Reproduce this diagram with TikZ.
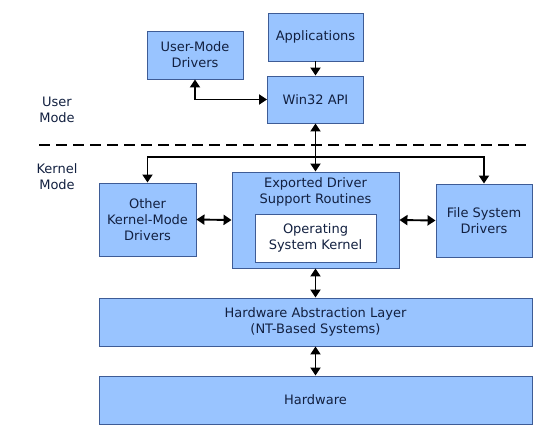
\documentclass[tikz,border=0pt]{standalone}
\usepackage{fontspec}
\setmainfont{DejaVu Sans}
\usepackage{tikz}
\usetikzlibrary{arrows.meta}

\definecolor{boxfill}{RGB}{153,196,255}
\definecolor{boxline}{RGB}{62,92,150}
\definecolor{boxtext}{RGB}{18,32,64}

\begin{document}
\begin{tikzpicture}[x=1bp, y=-1bp,
    layer/.style={draw=boxline, fill=boxfill, line width=0.9bp, text=boxtext,
      align=center, inner sep=0pt, font=\fontsize{13bp}{16bp}\selectfont},
    inner/.style={layer, fill=white},
    modelabel/.style={align=center, text=boxtext, font=\fontsize{13bp}{16bp}\selectfont},
    link/.style={line width=1.9bp, {Triangle[length=8bp,width=10bp]}-{Triangle[length=8bp,width=10bp]}},
    onelink/.style={line width=1.9bp, -{Triangle[length=8bp,width=10bp]}}]

  \useasboundingbox (0,0) rectangle (552,431);

  % User mode boxes
  \node[layer, minimum width=95bp, minimum height=48bp] (apps) at (315.5,37) {Applications};
  \node[layer, minimum width=96bp, minimum height=48bp] (umd)  at (195,55)   {User-Mode\\Drivers};
  \node[layer, minimum width=96bp, minimum height=47bp] (win)  at (315.5,99.5) {Win32 API};

  % Kernel mode boxes
  \node[layer, minimum width=97bp, minimum height=73bp] (okmd) at (147.5,219.5) {Other\\Kernel-Mode\\Drivers};
  \node[layer, minimum width=167bp, minimum height=96bp] (expo) at (315.5,220) {};
  \node[modelabel] (expotxt) at (315.5,192) {Exported Driver\\Support Routines};
  \node[inner, minimum width=121bp, minimum height=48bp] (osk) at (315.5,238) {Operating\\System Kernel};
  \node[layer, minimum width=96bp, minimum height=73bp] (fsd)  at (484,220.5) {File System\\Drivers};

  % Bottom layers
  \node[layer, minimum width=433bp, minimum height=48bp] (hal) at (315.5,322) {Hardware Abstraction Layer\\(NT-Based Systems)};
  \node[layer, minimum width=433bp, minimum height=48bp] (hw)  at (315.5,400) {Hardware};

  % Mode labels and separator
  \node[modelabel] (usermode)   at (57,110) {User\\Mode};
  \node[modelabel] (kernelmode) at (57,177) {Kernel\\Mode};
  \coordinate (sepL) at (39,145);
  \coordinate (sepR) at (532,145);
  \draw[line width=2bp, dash pattern=on 11bp off 6bp] (sepL) -- (sepR);

  % Connectors
  \coordinate (bus) at (315.5,157);
  \draw[onelink] (apps.south) -- (win.north);
  \draw[link] (umd.south) |- (win.west);
  \draw[link] (win.south) -- (expo.north);
  \draw[link] (okmd.north) |- (bus) -| (fsd.north);
  \draw[link] (okmd.east) -- (expo.west);
  \draw[link] (expo.east) -- (fsd.west);
  \draw[link] (expo.south) -- (hal.north);
  \draw[link] (hal.south) -- (hw.north);

\end{tikzpicture}
\end{document}
